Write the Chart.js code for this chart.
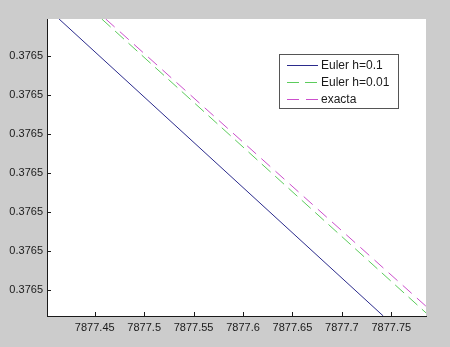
<!DOCTYPE html>
<html>
<head>
<meta charset="utf-8">
<script src="https://cdn.jsdelivr.net/npm/chart.js@4/dist/chart.umd.min.js"></script>
<style>
  html, body { margin: 0; padding: 0; background: #cccccc; }
  #chart { display: block; }
</style>
</head>
<body>
<canvas id="chart" width="450" height="347"></canvas>
<script>
// series (x, y pairs)
const seriesLabels = ['Euler h=0.1', 'Euler h=0.01', 'exacta'];
const xEuler01 = [7877.4139, 7877.7419];
const yEuler01 = [0.37650094, 0.37649334];
const xEuler001 = [7877.4571, 7877.7851];
const yEuler001 = [0.37650094, 0.37649342];
const xExacta = [7877.4611, 7877.7851];
const yExacta = [0.37650094, 0.37649359];

const xTickValues = [7877.45, 7877.5, 7877.55, 7877.6, 7877.65, 7877.7, 7877.75];
const xTickLabels = ['7877.45', '7877.5', '7877.55', '7877.6', '7877.65', '7877.7', '7877.75'];
const yTickValues = [0.376494, 0.376495, 0.376496, 0.376497, 0.376498, 0.376499, 0.376500];
const yTickLabels = ['0.3765', '0.3765', '0.3765', '0.3765', '0.3765', '0.3765', '0.3765'];

const xMin = 7877.4017, xMax = 7877.7851;
const yMin = 0.37649334, yMax = 0.37650094;

const toPoints = (xs, ys) => xs.map((x, i) => ({ x: x, y: ys[i] }));

const FONT = '"Liberation Sans", Arial, sans-serif';

// white axes area + inward ticks like matlab
const axesPlugin = {
    id: 'axesLook',
    beforeDraw(chart) {
        const a = chart.chartArea;
        const ctx = chart.ctx;
        ctx.save();
        ctx.fillStyle = '#ffffff';
        ctx.fillRect(a.left, a.top, a.right - a.left, a.bottom - a.top);
        ctx.restore();
    },
    afterDraw(chart) {
        const a = chart.chartArea;
        const ctx = chart.ctx;
        const xs = chart.scales.x, ys = chart.scales.y;
        ctx.save();
        ctx.strokeStyle = '#1a1a1a';
        ctx.lineWidth = 1;
        ctx.beginPath();
        xs.ticks.forEach(t => {
            const px = Math.round(xs.getPixelForValue(t.value)) + 0.5;
            ctx.moveTo(px, a.bottom);
            ctx.lineTo(px, a.bottom - 4);
        });
        ys.ticks.forEach(t => {
            const py = Math.round(ys.getPixelForValue(t.value)) + 0.5;
            ctx.moveTo(a.left, py);
            ctx.lineTo(a.left + 4, py);
        });
        ctx.stroke();

        // legend box
        const bx = 279.5, by = 54.5, bw = 119, bh = 54;
        ctx.fillStyle = '#ffffff';
        ctx.fillRect(bx, by, bw, bh);
        ctx.strokeStyle = '#555555';
        ctx.strokeRect(bx, by, bw, bh);
        ctx.font = '12px ' + FONT;
        ctx.textBaseline = 'middle';
        ctx.fillStyle = '#1a1a1a';
        const rows = [65.5, 82.5, 99.5];
        chart.data.datasets.forEach((ds, i) => {
            ctx.strokeStyle = ds.borderColor;
            ctx.setLineDash(ds.borderDash || []);
            ctx.beginPath();
            ctx.moveTo(287, rows[i]);
            ctx.lineTo(318, rows[i]);
            ctx.stroke();
            ctx.setLineDash([]);
            ctx.fillText(ds.label, 321, rows[i]);
        });
        ctx.restore();
    }
};

new Chart(document.getElementById('chart'), {
    type: 'line',
    data: {
        datasets: [
            {
                label: seriesLabels[0],
                data: toPoints(xEuler01, yEuler01),
                borderColor: '#2b2b8c',
                borderWidth: 1,
                pointRadius: 0,
                tension: 0
            },
            {
                label: seriesLabels[1],
                data: toPoints(xEuler001, yEuler001),
                borderColor: '#5ccc5c',
                borderWidth: 1,
                borderDash: [12, 6],
                pointRadius: 0,
                tension: 0
            },
            {
                label: seriesLabels[2],
                data: toPoints(xExacta, yExacta),
                borderColor: '#cc4fcc',
                borderWidth: 1,
                borderDash: [12, 7],
                pointRadius: 0,
                tension: 0
            }
        ]
    },
    options: {
        responsive: false,
        animation: false,
        devicePixelRatio: 1,
        layout: { padding: { left: 0, top: 19, right: 24, bottom: 0 } },
        plugins: {
            legend: { display: false },
            tooltip: { enabled: false }
        },
        scales: {
            x: {
                type: 'linear',
                min: xMin,
                max: xMax,
                afterBuildTicks: s => { s.ticks = xTickValues.map(v => ({ value: v })); },
                afterFit: s => { s.height = 31; },
                grid: { drawOnChartArea: false, drawTicks: false },
                border: { display: true, color: '#1a1a1a', width: 1 },
                ticks: {
                    padding: 5,
                    maxRotation: 0,
                    autoSkip: false,
                    color: '#1a1a1a',
                    font: { family: FONT, size: 11 },
                    callback: (v, i) => xTickLabels[i]
                }
            },
            y: {
                type: 'linear',
                min: yMin,
                max: yMax,
                afterBuildTicks: s => { s.ticks = yTickValues.map(v => ({ value: v })); },
                afterFit: s => { s.width = 47; },
                grid: { drawOnChartArea: false, drawTicks: false },
                border: { display: true, color: '#1a1a1a', width: 1 },
                ticks: {
                    padding: 4,
                    autoSkip: false,
                    color: '#1a1a1a',
                    font: { family: FONT, size: 11 },
                    callback: (v, i) => yTickLabels[i]
                }
            }
        }
    },
    plugins: [axesPlugin]
});
</script>
</body>
</html>
